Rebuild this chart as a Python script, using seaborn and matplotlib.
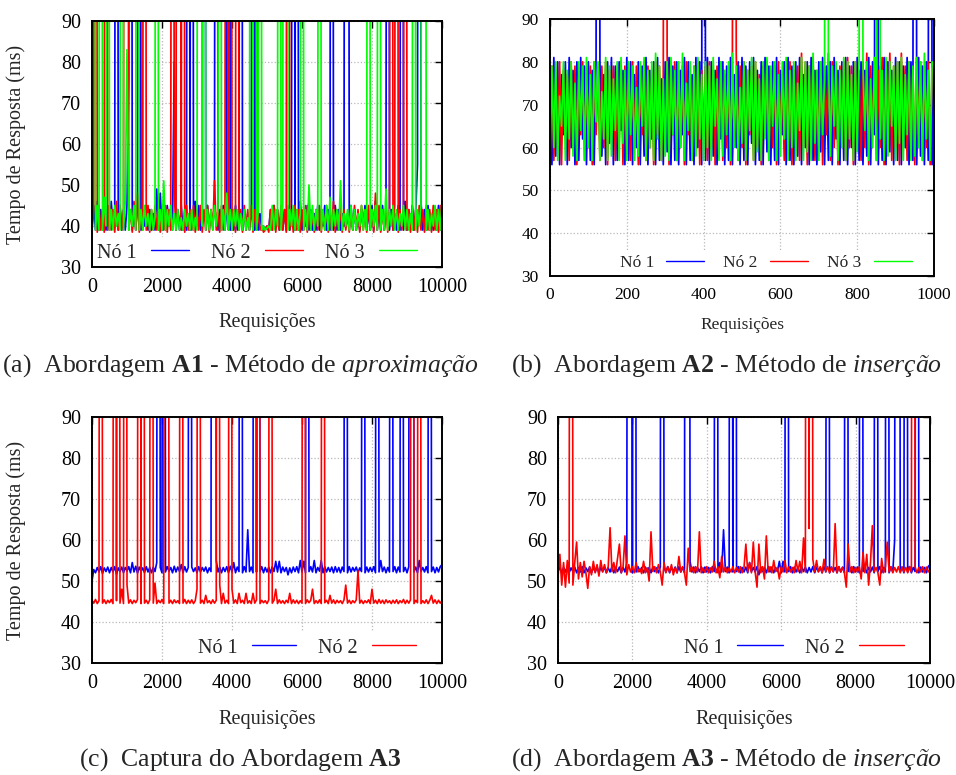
import numpy as np
import matplotlib
matplotlib.use("Agg")
import matplotlib.pyplot as plt
import seaborn as sns

# --- dados (tempo de resposta em ms; picos fora da escala ~500) ---
# (a) A1 - aproximação, uma amostra a cada 50 requisições
a_step = 50
a_no1 = [40, 45, 39, 46, 39, 44, 39, 43, 39, 45, 39, 46, 40, 44, 500, 39, 45, 39, 44, 39,
         45, 76, 500, 39, 44, 39, 45, 500, 39, 44, 40, 45, 39, 44, 39, 43, 39, 49, 39, 48,
         39, 44, 39, 45, 40, 44, 39, 80, 39, 44, 39, 45, 39, 44, 39, 500, 39, 500, 39, 46,
         40, 45, 39, 44, 500, 39, 45, 39, 44, 40, 45, 500, 39, 44, 39, 45, 39, 44, 500, 39,
         44, 39, 45, 39, 44, 500, 39, 44, 39, 43, 39, 44, 500, 39, 500, 39, 43, 39, 40, 39,
         40, 39, 44, 39, 45, 40, 44, 39, 43, 39, 44, 39, 45, 39, 44, 500, 39, 500, 39, 46,
         39, 44, 40, 45, 39, 44, 39, 43, 39, 45, 39, 44, 40, 45, 39, 44, 39, 500, 39, 45,
         39, 44, 39, 43, 40, 500, 500, 39, 45, 39, 44, 39, 43, 39, 44, 40, 45, 39, 44, 39,
         45, 39, 46, 39, 44, 39, 45, 39, 44, 500, 39, 44, 39, 43, 39, 45, 39, 500, 39, 46,
         39, 44, 39, 45, 39, 44, 55, 500, 46, 39, 44, 39, 45, 39, 43, 39, 44, 39, 45, 39,
         44]
a_no2 = [39, 44, 500, 38.5, 45, 39, 44, 38.5, 500, 39, 45, 39, 44, 38.5, 46, 39, 45, 39, 44, 500,
         500, 39, 44, 38.5, 46, 39, 48, 38.5, 44, 39, 500, 39, 45, 38.5, 44, 39, 45, 39, 44, 38.5,
         44, 39, 45, 38.5, 44, 39, 500, 48, 39, 500, 500, 39, 500, 38.5, 45, 39, 44, 39, 45, 38.5,
         44, 39, 45, 38.5, 44, 39, 45, 38.5, 44, 39, 51, 39, 44, 38.5, 45, 39, 44, 500, 39, 500,
         39, 44, 38.5, 500, 39, 44, 38.5, 45, 39, 44, 39, 45, 38.5, 44, 39, 43, 39, 40, 38.5, 39,
         40, 38.5, 44, 39, 45, 38.5, 44, 39, 45, 39, 44, 38.5, 500, 39, 44, 38.5, 45, 39, 44, 38.5,
         44, 39, 45, 38.5, 44, 39, 43, 38.5, 44, 39, 45, 38.5, 44, 39, 45, 38.5, 44, 39, 46, 38.5,
         44, 39, 45, 38.5, 44, 39, 43, 38.5, 44, 39, 45, 39, 44, 38.5, 45, 39, 44, 38.5, 45, 39,
         44, 38.5, 48, 39, 45, 38.5, 44, 39, 45, 38.5, 44, 500, 39, 45, 500, 38.5, 44, 39, 45, 500,
         39, 44, 38.5, 45, 39, 44, 38.5, 45, 39, 44, 38.5, 45, 39, 44, 38.5, 45, 39, 44, 38.5, 45,
         39]
a_no3 = [500, 500, 39, 45, 39, 500, 39, 47, 40, 500, 39, 44, 39, 45, 40, 43, 39, 500, 39, 46,
         83, 39, 44, 40, 45, 39, 500, 39, 44, 39, 45, 40, 43, 39, 44, 39, 42, 500, 39, 44,
         39, 51, 39, 44, 40, 45, 39, 43, 39, 44, 39, 42, 39, 44, 40, 43, 39, 44, 39, 42,
         39, 500, 500, 40, 500, 39, 44, 39, 44, 39, 45, 40, 44, 500, 39, 44, 39, 48, 39, 44,
         39, 44, 40, 44, 39, 43, 39, 44, 39, 42, 39, 500, 39, 500, 39, 44, 500, 39, 40, 39,
         39.5, 40, 39, 45, 39, 44, 40, 500, 39, 45, 500, 500, 39, 44, 40, 45, 39, 44, 39, 43,
         500, 39, 44, 39, 50, 39, 45, 39, 44, 40, 500, 39, 44, 39, 45, 39, 47, 39, 44, 40,
         44, 39, 51, 39, 43, 40, 44, 39, 45, 39, 44, 39, 43, 40, 45, 39, 44, 39, 500, 39,
         44, 40, 45, 39, 500, 39, 44, 39, 49, 39, 44, 40, 45, 39, 44, 39, 43, 40, 45, 39,
         44, 39, 43, 39, 500, 39, 44, 40, 45, 500, 500, 39, 44, 39, 43, 40, 45, 39, 44, 39,
         46]

# (b) A2 - inserção, uma amostra a cada 5 requisições
b_step = 5
b_no1 = [79, 56, 81, 58, 80, 56, 77, 63, 80, 56, 81, 60, 78, 56, 80, 57, 81, 62, 79, 56,
         80, 57, 78, 56, 81, 500, 80, 58, 77, 56, 80, 61, 81, 56, 79, 57, 80, 64, 78, 56,
         81, 57, 80, 56, 77, 60, 80, 56, 79, 58, 81, 56, 78, 62, 80, 56, 81, 57, 76, 56,
         80, 59, 81, 56, 79, 57, 80, 56, 78, 63, 81, 56, 80, 57, 77, 56, 81, 60, 80, 56,
         500, 57, 81, 56, 80, 58, 78, 56, 81, 62, 80, 56, 79, 57, 81, 56, 77, 60, 80, 56,
         81, 57, 79, 56, 80, 61, 81, 56, 78, 57, 80, 56, 81, 59, 79, 56, 80, 57, 81, 56,
         78, 63, 80, 56, 81, 57, 79, 56, 80, 58, 81, 56, 77, 60, 80, 56, 81, 57, 78, 56,
         80, 59, 81, 56, 79, 57, 80, 56, 81, 62, 78, 56, 80, 57, 81, 56, 79, 60, 80, 56,
         81, 57, 80, 56, 78, 58, 81, 56, 80, 63, 500, 56, 79, 57, 81, 56, 80, 59, 78, 56,
         81, 57, 80, 56, 79, 60, 81, 56, 80, 57, 500, 56, 81, 58, 79, 56, 80, 57, 500, 56,
         80]
b_no2 = [63, 79, 57, 76, 60, 80, 56, 78, 63, 77, 57, 80, 61, 79, 56, 76, 63, 80, 57, 78,
         60, 79, 56, 80, 63, 77, 57, 79, 60, 80, 56, 78, 63, 79, 57, 76, 60, 80, 56, 79,
         63, 78, 57, 80, 60, 79, 56, 77, 63, 80, 57, 79, 60, 78, 56, 80, 63, 79, 57, 77,
         500, 82, 56, 79, 63, 80, 57, 78, 60, 79, 56, 80, 63, 77, 57, 79, 60, 80, 56, 78,
         63, 79, 57, 80, 60, 78, 56, 79, 63, 80, 57, 77, 60, 79, 56, 80, 500, 82, 57, 79,
         60, 80, 56, 78, 63, 79, 57, 80, 60, 77, 56, 79, 63, 80, 57, 78, 60, 79, 56, 80,
         63, 77, 57, 79, 60, 80, 56, 78, 63, 79, 57, 82, 60, 80, 56, 79, 63, 81, 57, 78,
         60, 80, 56, 79, 63, 82, 57, 80, 60, 78, 56, 79, 63, 80, 57, 81, 60, 79, 56, 80,
         63, 78, 57, 80, 60, 82, 56, 79, 63, 80, 57, 78, 60, 81, 56, 80, 63, 82, 57, 79,
         60, 80, 56, 82, 63, 79, 57, 80, 60, 78, 56, 81, 63, 80, 57, 79, 60, 80, 56, 78,
         79]
b_no3 = [57, 79, 60, 80, 57, 72, 65, 80, 57, 78, 62, 80, 58, 75, 57, 80, 64, 79, 57, 81,
         60, 77, 57, 80, 66, 80, 57, 73, 62, 81, 57, 79, 58, 76, 64, 80, 57, 81, 61, 78,
         57, 80, 63, 79, 57, 74, 58, 80, 65, 81, 57, 78, 60, 80, 57, 82, 62, 79, 57, 76,
         58, 80, 57, 81, 63, 78, 57, 80, 60, 82, 57, 75, 64, 80, 57, 79, 58, 81, 62, 77,
         57, 80, 60, 79, 57, 81, 65, 76, 57, 80, 58, 78, 63, 80, 57, 82, 60, 79, 57, 74,
         61, 80, 57, 78, 64, 81, 57, 80, 59, 76, 57, 80, 62, 81, 57, 79, 65, 80, 57, 77,
         58, 80, 62, 81, 57, 78, 60, 80, 57, 75, 64, 81, 57, 80, 59, 79, 57, 82, 61, 78,
         57, 80, 63, 76, 500, 81, 58, 79, 65, 80, 57, 78, 60, 81, 57, 80, 62, 77, 57, 80,
         59, 81, 500, 79, 64, 80, 57, 76, 60, 81, 57, 500, 62, 78, 57, 81, 58, 80, 65, 79,
         57, 80, 61, 81, 57, 77, 63, 80, 57, 79, 58, 81, 60, 80, 57, 82, 62, 78, 57, 80,
         79]

# (c) Captura A3, uma amostra a cada 50 requisições
c_step = 50
c_no1 = [50, 52.8, 52, 53.3, 52.2, 53.5, 51.8, 53.2, 52.3, 53.4, 52, 53.3, 52.2, 53.5, 51.6, 53.2, 52.3, 53.4, 52, 53.3,
         52.4, 53.5, 52, 54.5, 52.2, 53.6, 51.9, 53.4, 52.3, 53.2, 52, 53.5, 52.2, 53.3, 52, 53.4, 52.3, 54.5, 500, 53.3,
         52, 500, 52.2, 53.5, 52.4, 53.3, 52, 53.6, 52.2, 53.4, 52.3, 54, 52, 53.5, 52.2, 53.3, 500, 53.4, 52.3, 53.2,
         52, 53.5, 52.2, 53.3, 52.4, 53.4, 52, 53.2, 52.3, 500, 500, 55, 52.2, 53.4, 52, 53.3, 52.3, 53.5, 52, 53.6,
         52.2, 54.5, 52, 53.4, 52.3, 500, 52, 53.5, 52.2, 62.5, 52.3, 53.4, 52, 500, 52.2, 500, 52.3, 53.5, 52, 53.3,
         52.2, 53.4, 52, 53.5, 52.3, 54.8, 52.2, 54.8, 52, 53.4, 52.3, 53.3, 51.5, 53.2, 52, 53.4, 52.3, 53.5, 52, 55,
         52.2, 54.8, 52, 500, 52.3, 53.5, 52.2, 55, 52, 53.3, 52.4, 55, 52, 53.5, 52.2, 53.3, 52.3, 53.4, 52, 53.5,
         52.2, 53.3, 52, 53.4, 52.3, 500, 52, 53.5, 52.2, 53.3, 52.4, 53.4, 52, 53.2, 52.3, 500, 52, 53.4, 52.2, 53.3,
         52.3, 53.5, 52, 500, 52.2, 55, 52.3, 53.4, 52, 53.3, 52.2, 500, 52.3, 53.5, 52, 53.4, 52.2, 500, 52.3, 53.3,
         52, 53.5, 500, 500, 52.2, 53.4, 52, 55, 52.3, 53.3, 52.2, 53.5, 52, 500, 52.3, 53.4, 52, 53.3, 52.2, 53.5,
         54]
c_no2 = [45.3, 44.6, 45.5, 44.5, 45.2, 500, 44.6, 45.4, 44.5, 45.3, 44.7, 45.5, 44.5, 500, 45.2, 500, 44.6, 48, 44.5, 500,
         49, 44.6, 45.4, 44.5, 45.3, 44.7, 45.5, 500, 44.5, 500, 44.6, 45.3, 44.5, 45.4, 500, 44.6, 49.5, 44.5, 45.3, 44.7,
         45.5, 44.5, 500, 500, 44.6, 45.3, 44.5, 45.4, 44.7, 45.2, 44.5, 500, 44.6, 45.5, 44.5, 45.3, 44.6, 45.4, 44.5, 45.2,
         48, 500, 44.6, 45.3, 44.5, 46.5, 44.7, 45.2, 44.5, 45.4, 44.6, 45.3, 500, 49, 44.5, 47, 44.6, 45.3, 44.5, 500,
         48, 44.6, 45.4, 44.5, 47, 44.7, 45.3, 44.5, 47, 44.6, 45.2, 44.5, 47, 44.6, 45.4, 500, 44.5, 45.3, 44.7, 45.2,
         44.5, 45.4, 500, 44.6, 45.3, 48, 44.5, 45.4, 44.6, 45.2, 44.5, 45.3, 44.7, 47, 44.5, 45.4, 44.6, 45.3, 44.5, 45.2,
         44.6, 500, 44.5, 45.4, 44.7, 45.3, 48, 44.5, 45.2, 44.6, 45.4, 44.5, 500, 44.7, 45.3, 44.5, 46.5, 44.6, 45.4, 44.5,
         45.3, 44.7, 45.2, 44.5, 45.4, 49, 44.6, 45.3, 44.5, 45.2, 44.7, 45.4, 52.5, 44.6, 45.3, 44.5, 45.2, 44.7, 45.4, 44.5,
         48, 44.6, 45.3, 44.5, 45.5, 44.6, 45.3, 44.5, 45.4, 44.7, 45.2, 44.5, 45.3, 44.6, 45.4, 44.5, 45.2, 44.7, 45.5, 44.5,
         45.3, 44.6, 45.4, 500, 44.5, 45.3, 44.7, 500, 44.5, 45.2, 44.6, 45.4, 44.5, 45.3, 46.5, 44.6, 45.4, 44.5, 45.3, 44.6,
         45.2]

# (d) A3 - inserção, uma amostra a cada 50 requisições
d_step = 50
d_no1 = [52.3, 53.4, 52, 53.3, 52.2, 53.5, 52, 53.2, 52.3, 53.4, 52, 53.3, 52.2, 53.5, 52, 53.2, 52.3, 53.4, 52, 53.3,
         52.2, 53.5, 52, 53.3, 52.3, 53.4, 52, 53.2, 52.2, 53.5, 52, 53.3, 52.3, 53.4, 52, 53.3, 52.2, 54.5, 500, 500,
         52, 500, 52.2, 53.5, 52.3, 53.3, 52, 53.4, 52.2, 53.3, 52, 53.5, 52.3, 53.2, 52, 53.4, 500, 53.3, 52.2, 53.5,
         52, 53.3, 52.3, 53.4, 52, 53.5, 52.2, 53.3, 52, 500, 500, 54.8, 52.2, 53.4, 52, 53.3, 52.3, 53.5, 52, 53.4,
         52.2, 53.3, 52, 53.5, 52.3, 500, 52, 54.5, 52.2, 62.5, 52.3, 53.4, 52, 500, 52.2, 500, 52.3, 53.5, 52, 53.3,
         52.2, 53.4, 52, 54.5, 52.3, 53.3, 52.2, 53.5, 51.5, 53.4, 52.3, 53.3, 52, 53.5, 52.2, 53.4, 52, 53.3, 52.3, 54.8,
         52, 54.8, 52.2, 500, 52.3, 53.5, 52, 53.4, 52.2, 53.3, 52, 53.5, 52.3, 53.4, 52, 53.3, 52.2, 53.5, 52, 53.4,
         52.3, 53.3, 52, 53.5, 52.2, 500, 52, 53.4, 52.3, 53.3, 52, 53.5, 52.2, 53.4, 52, 500, 52.3, 53.3, 52, 53.5,
         52.2, 53.4, 52, 500, 52.3, 53.5, 52, 53.3, 52.2, 53.4, 52, 500, 52.3, 53.5, 52, 53.3, 52.2, 500, 52, 53.4,
         52.2, 60, 500, 500, 52.3, 53.4, 52, 500, 52.2, 53.5, 52, 53.3, 52.3, 500, 52, 53.4, 52.2, 53.3, 52, 53.5,
         54]
d_no2 = [51, 56.5, 49, 54.5, 48.5, 55, 49.5, 500, 49, 54.5, 59.5, 50.5, 54.5, 51, 54.8, 52, 48.2, 53.5, 51.5, 54.8,
         52, 54, 51.2, 55, 52.2, 54, 52, 53.5, 63, 52.3, 54.5, 52, 55.5, 59, 52, 53.5, 61, 51.5, 54, 52.2,
         53.5, 52, 54.5, 52.2, 53, 51.8, 54.8, 52, 53.2, 50, 62, 52.3, 53.5, 52, 54, 52.2, 49, 54.5, 52, 53.5,
         52.2, 54, 51.5, 53.2, 52, 56, 52.2, 53.5, 52, 49, 58, 52.3, 53.4, 52, 53.5, 52.2, 62, 52, 53.2, 52.1,
         53.5, 52, 53.2, 52.2, 54.8, 52, 53.5, 50.8, 56, 52.2, 53.4, 52, 53.2, 52.2, 53.5, 52, 53.3, 52.2, 53.5, 52,
         53.3, 59, 52.2, 54.5, 52, 59.5, 52.2, 48.5, 59, 52, 53.5, 50.5, 61, 52.2, 53.5, 52, 55, 52.3, 53.3, 50.5,
         53.5, 52.2, 55, 52, 53.4, 52.2, 53.3, 52, 55, 52.3, 54.8, 52, 60.5, 52.2, 500, 62.8, 500, 55.3, 52.2, 55,
         52.2, 53.5, 52, 55.3, 52.3, 53.5, 52, 53.3, 52.2, 64, 52, 53.5, 52.2, 53.3, 52, 48.5, 59, 52.2, 53.5, 52,
         53.3, 52.2, 53.5, 50.5, 57, 52, 56.5, 49, 54.5, 63.5, 52.2, 53.3, 52, 49, 55.5, 52, 53.4, 59.5, 52.2, 53.5,
         52, 53.3, 52.2, 53.5, 52, 53.4, 52.2, 53.3, 52, 53.5, 52.2, 500, 53.4, 52, 53.3, 52.2, 53.5, 52, 53.4, 52.2,
         53]

blue, red, green = "#0000ff", "#ff0000", "#00ff00"

# --- estilo ---
sns.set_theme(style="white")
plt.rcParams["font.family"] = ["Liberation Serif", "DejaVu Serif"]
plt.rcParams["mathtext.fontset"] = "custom"
plt.rcParams["mathtext.rm"] = "Liberation Serif"
plt.rcParams["mathtext.it"] = "Liberation Serif:italic"
plt.rcParams["mathtext.bf"] = "Liberation Serif:bold"
plt.rcParams["axes.axisbelow"] = True

fig = plt.figure(figsize=(9.56, 7.75), dpi=100)
W, H = 956, 775


def add_ax(left, top, right, bottom):
    return fig.add_axes([left / W, 1 - bottom / H, (right - left) / W, (bottom - top) / H])


def draw(ax, step, series, lw):
    for vals, color, name in series:
        x = np.arange(len(vals)) * step
        sns.lineplot(x=x, y=vals, ax=ax, color=color, linewidth=lw,
                     label=name, estimator=None, sort=False)


def style(ax, xmax, xstep, fs, leg_x, leg_y, hl):
    ax.set_xlim(0, xmax)
    ax.set_ylim(30, 90)
    ax.set_xticks(range(0, xmax + 1, xstep))
    ax.set_yticks(range(30, 91, 10))
    ax.grid(True, color="#b8b8b8", linestyle=":", linewidth=0.9)
    ax.tick_params(direction="in", top=True, right=True, length=5, width=1,
                   labelsize=fs, pad=8, colors="black")
    for s in ax.spines.values():
        s.set_visible(True)
        s.set_color("black")
        s.set_linewidth(1.4)
        s.set_zorder(10)
    ax.set_xlabel("Requisições", fontsize=fs)
    leg = ax.legend(loc="center right", bbox_to_anchor=(leg_x, leg_y), ncol=3,
                    markerfirst=False, frameon=True, fancybox=False, facecolor="white",
                    edgecolor="none", framealpha=1, fontsize=fs, handlelength=hl,
                    handletextpad=0.7, columnspacing=1.1, borderpad=0.3, borderaxespad=0)
    leg.set_zorder(5)
    for h in leg.get_lines():
        h.set_linewidth(1.0)


# (a)
ax_a = add_ax(92, 21, 442, 267)
draw(ax_a, a_step, [(a_no1, blue, "Nó 1"), (a_no2, red, "Nó 2"), (a_no3, green, "Nó 3")], 1.25)
style(ax_a, 10000, 2000, 14.5, 0.946, 0.057, 1.9)
ax_a.set_ylabel("Tempo de Resposta (ms)", fontsize=14.5)
ax_a.yaxis.set_label_coords(-0.19, 0.5)
ax_a.xaxis.set_label_coords(0.5, -0.185)

# (b)
ax_b = add_ax(550, 19, 934, 276)
draw(ax_b, b_step, [(b_no1, blue, "Nó 1"), (b_no2, red, "Nó 2"), (b_no3, green, "Nó 3")], 1.25)
style(ax_b, 1000, 200, 12.5, 0.956, 0.05, 2.2)
ax_b.set_ylabel("")
ax_b.xaxis.set_label_coords(0.5, -0.16)

# (c)
ax_c = add_ax(92, 417, 442, 663)
draw(ax_c, c_step, [(c_no1, blue, "Nó 1"), (c_no2, red, "Nó 2")], 1.2)
style(ax_c, 10000, 2000, 14.5, 0.943, 0.061, 2.2)
ax_c.set_ylabel("Tempo de Resposta (ms)", fontsize=14.5)
ax_c.yaxis.set_label_coords(-0.19, 0.5)
ax_c.xaxis.set_label_coords(0.5, -0.19)

# (d)
ax_d = add_ax(558, 417, 930, 663)
draw(ax_d, d_step, [(d_no1, blue, "Nó 1"), (d_no2, red, "Nó 2")], 1.2)
style(ax_d, 10000, 2000, 14.5, 0.946, 0.061, 2.25)
ax_d.set_ylabel("")
ax_d.xaxis.set_label_coords(0.5, -0.19)

# --- legendas das subfiguras ---
cap = dict(ha="center", va="baseline", fontsize=18.5)
fig.text(240 / W, 1 - 372 / H, r"(a)  Abordagem $\mathbf{A1}$ - Método de $\mathit{aproximação}$", **cap)
fig.text(727 / W, 1 - 372 / H, r"(b)  Abordagem $\mathbf{A2}$ - Método de $\mathit{inserção}$", **cap)
fig.text(240 / W, 1 - 766 / H, r"(c)  Captura do Abordagem $\mathbf{A3}$", **cap)
fig.text(727 / W, 1 - 766 / H, r"(d)  Abordagem $\mathbf{A3}$ - Método de $\mathit{inserção}$", **cap)

fig.savefig("out.png", dpi=100)
